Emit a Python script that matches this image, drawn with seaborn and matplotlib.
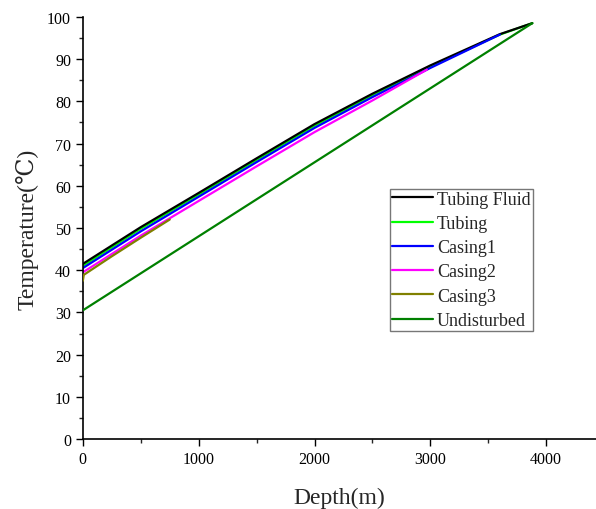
import matplotlib
matplotlib.use("Agg")
import matplotlib.pyplot as plt
import seaborn as sns
import numpy as np
from matplotlib.ticker import MultipleLocator

sns.set_style("ticks")
plt.rcParams['font.family'] = ['Liberation Serif', 'DejaVu Serif']

depth_fluid = [0, 500, 1000, 1500, 2000, 2500, 3000, 3600, 3880]
temp_fluid = [41.5, 50.2, 58.3, 66.5, 74.6, 81.8, 88.5, 95.9, 98.5]
depth_tubing = [0, 500, 1000, 1500, 2000, 2500, 3000, 3600, 3880]
temp_tubing = [41.0, 49.8, 57.9, 66.1, 74.2, 81.4, 88.2, 95.8, 98.5]
depth_casing1 = [0, 500, 1000, 1500, 2000, 2500, 3000, 3600]
temp_casing1 = [40.5, 49.2, 57.4, 65.6, 73.7, 81.0, 87.9, 95.8]
depth_casing2 = [0, 500, 1000, 1500, 2000, 2500, 2970]
temp_casing2 = [39.5, 48.2, 56.4, 64.6, 72.7, 80.2, 87.5]
depth_casing3 = [0, 8, 250, 500, 750]
temp_casing3 = [37.5, 38.9, 43.3, 47.7, 52.0]
depth_undist = [0, 3880]
temp_undist = [30.5, 98.5]

fig = plt.figure(figsize=(5.96, 5.10), dpi=100)
ax = fig.add_axes([0.139, 0.137, 0.861, 0.828])

series = [
    ("Tubing Fluid", depth_fluid, temp_fluid, "#000000", 2.3),
    ("Tubing", depth_tubing, temp_tubing, "#00ff00", 2.1),
    ("Casing1", depth_casing1, temp_casing1, "#0000ff", 2.4),
    ("Casing2", depth_casing2, temp_casing2, "#ff00ff", 2.5),
    ("Casing3", depth_casing3, temp_casing3, "#808000", 2.6),
    ("Undisturbed", depth_undist, temp_undist, "#008000", 2.7),
]
for name, x, y, c, z in series:
    sns.lineplot(x=x, y=y, color=c, label=name, ax=ax, linewidth=1.6, zorder=z)

ax.set_xlim(0, 4430)
ax.set_ylim(0, 100)
ax.xaxis.set_major_locator(MultipleLocator(1000))
ax.xaxis.set_minor_locator(MultipleLocator(500))
ax.yaxis.set_major_locator(MultipleLocator(10))
ax.yaxis.set_minor_locator(MultipleLocator(5))
ax.tick_params(which='major', direction='out', length=5, width=1, labelsize=11.5, colors='black')
ax.tick_params(which='minor', direction='out', length=3, width=1)
for s in ['top', 'right']:
    ax.spines[s].set_visible(False)
for s in ['left', 'bottom']:
    ax.spines[s].set_linewidth(1.2)
    ax.spines[s].set_color('black')

ax.set_xlabel("Depth(m)", fontsize=17, labelpad=14)
ax.set_ylabel("Temperature(\u2103)", fontsize=17, labelpad=6)

leg = ax.legend(loc='lower right', bbox_to_anchor=(0.877, 0.256), fontsize=13,
                frameon=True, fancybox=False, edgecolor='#555555', handlelength=2.3,
                handletextpad=0.2, borderpad=0.12, labelspacing=0.4, borderaxespad=0)
leg.get_frame().set_linewidth(1.0)

fig.savefig("out.png", dpi=100)
